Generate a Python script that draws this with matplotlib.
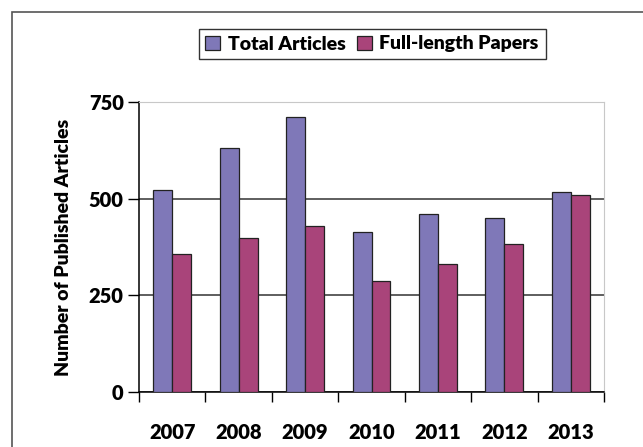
import numpy as np
import matplotlib
matplotlib.use("Agg")
import matplotlib.pyplot as plt
from matplotlib.patches import Rectangle

plt.rcParams["font.family"] = ["Lato", "DejaVu Sans"]
plt.rcParams["font.weight"] = "heavy"

years = ["2007", "2008", "2009", "2010", "2011", "2012", "2013"]
total_articles = [523, 631, 712, 413, 461, 449, 516]
full_length = [356, 398, 430, 288, 330, 384, 509]

W, H = 643, 447
fig = plt.figure(figsize=(W / 100, H / 100), dpi=100)
fig.patch.set_facecolor("white")

# outer frame
fig.patches.append(Rectangle((12 / W, -0.05), 1.2, 1 - 12 / H + 0.05,
                             transform=fig.transFigure, fill=False,
                             edgecolor="#555555", linewidth=1.2))

left, right, top, bottom = 139, 604, 102, 392
ax = fig.add_axes([left / W, 1 - bottom / H, (right - left) / W, (bottom - top) / H])

x = np.arange(len(years))
w = 1 / 3.5
b1 = ax.bar(x - w / 2, total_articles, w, color="#7f78b8", edgecolor="#222222",
            linewidth=0.9, label="Total Articles", zorder=3)
b2 = ax.bar(x + w / 2, full_length, w, color="#a9447a", edgecolor="#222222",
            linewidth=0.9, label="Full-length Papers", zorder=3)

ax.set_xlim(-0.5, len(years) - 0.5)
ax.set_ylim(0, 750)
ax.set_yticks([0, 250, 500, 750])
ax.set_yticklabels(["0", "250", "500", "750"], fontsize=14.5, fontweight="heavy")
ax.yaxis.grid(True, color="#333333", linewidth=1.1, zorder=0)

# ticks at category boundaries, labels at centres
ax.set_xticks(np.arange(len(years) + 1) - 0.5)
ax.set_xticklabels([])
ax.set_xticks(x, minor=True)
ax.set_xticklabels(years, minor=True, fontsize=14.5, fontweight="heavy")
ax.tick_params(axis="x", which="minor", length=0, pad=22)
ax.tick_params(axis="x", which="major", length=7, width=1, direction="out")
ax.tick_params(axis="y", length=8, width=1, direction="out", pad=3)

for s in ["top", "right"]:
    ax.spines[s].set_color("#c8c8c8")
for s in ["left", "bottom"]:
    ax.spines[s].set_color("black")
    ax.spines[s].set_linewidth(1.1)

ax.set_ylabel("Number of Published Articles", fontsize=14, fontweight="heavy", labelpad=12)

leg = fig.legend(handles=[b1, b2], loc="center", bbox_to_anchor=(372 / W, 1 - 44 / H),
                 ncol=2, fontsize=14, frameon=True, fancybox=False, edgecolor="black",
                 handlelength=0.75, handleheight=0.75, handletextpad=0.4, columnspacing=0.6,
                 borderpad=0.35)
leg.get_frame().set_linewidth(1.0)
for t in leg.get_texts():
    t.set_fontweight("heavy")

fig.savefig("out.png", dpi=100)
